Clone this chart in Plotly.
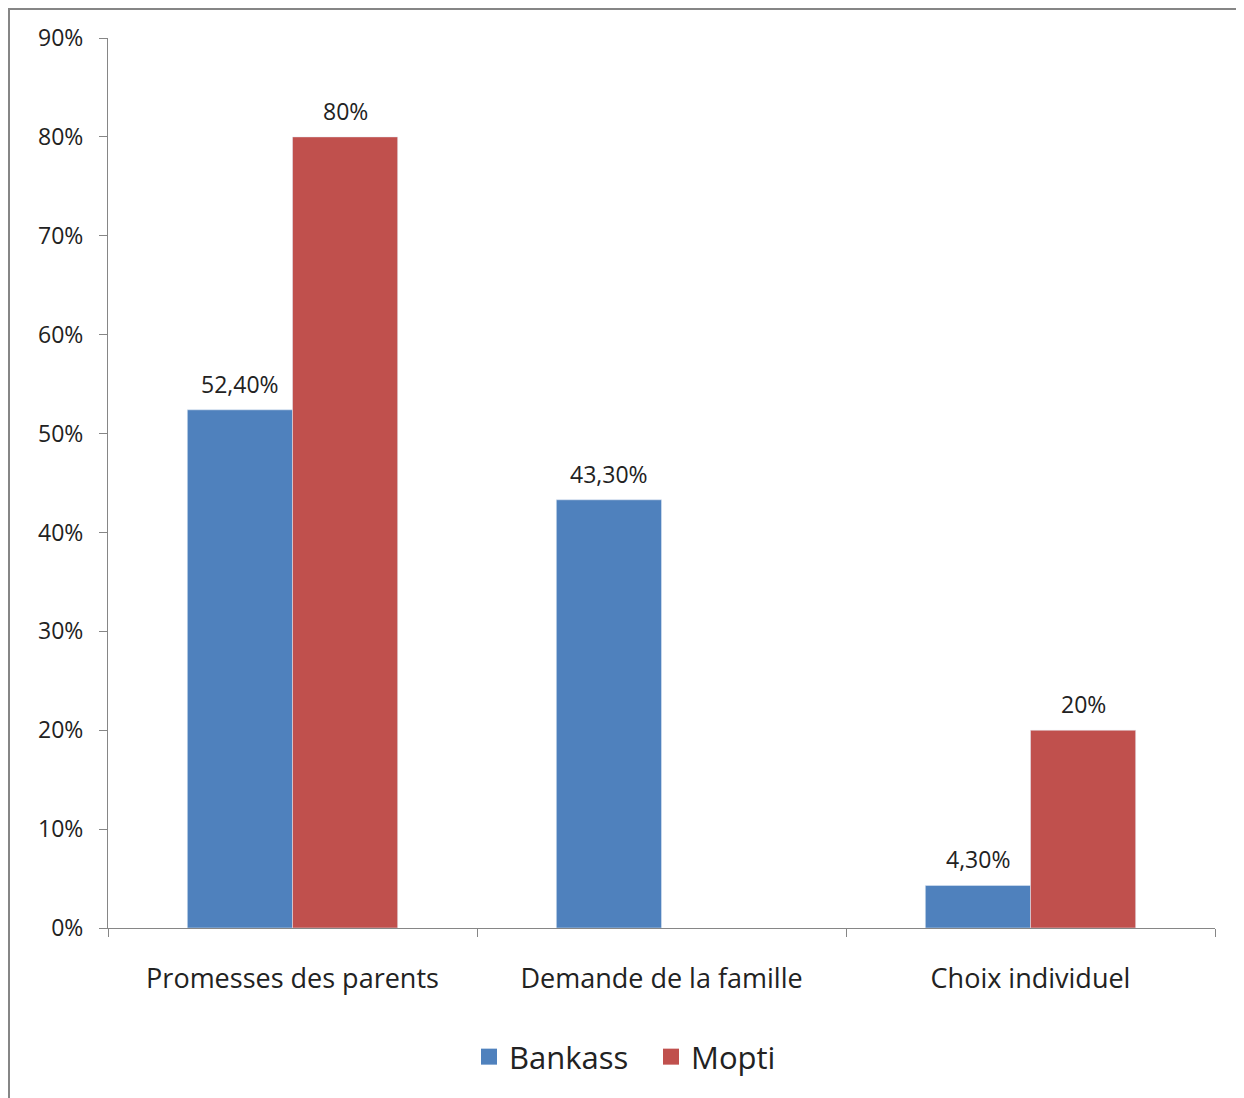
import plotly.graph_objects as go

categories = ["Promesses des parents", "Demande de la famille", "Choix individuel"]
bankass = [52.4, 43.3, 4.3]
mopti = [80, None, 20]
bankass_labels = ["52,40%", "43,30%", "4,30%"]
mopti_labels = ["80%", "", "20%"]
tick_vals = [0, 10, 20, 30, 40, 50, 60, 70, 80, 90]
tick_text = ["0%", "10%", "20%", "30%", "40%", "50%", "60%", "70%", "80%", "90%"]

# page is offset by the 8px body margin
OFF = 8
W, H = 1244 - OFF, 1098 - OFF
L, R, T, B = 108 - OFF, 1215 - OFF, 38 - OFF, 928 - OFF
FONT = "Open Sans, Noto Sans, sans-serif"
BLUE, RED = "#4F81BD", "#C0504D"
BAR_PX = ((R - L) / 3) * (1 - 0.43) / 2

fig = go.Figure()
fig.add_trace(go.Bar(name="Bankass", x=categories, y=bankass, marker_color=BLUE,
                     showlegend=False))
fig.add_trace(go.Bar(name="Mopti", x=categories, y=mopti, marker_color=RED,
                     showlegend=False))
# legend entries with larger square symbols
for name, col in [("Bankass", BLUE), ("Mopti", RED)]:
    fig.add_trace(go.Scatter(name=name, x=[None], y=[None], mode="markers",
                             marker=dict(symbol="square", size=20, color=col)))

annotations = []
for cat, v, lab in zip(categories, bankass, bankass_labels):
    if v is not None and lab:
        annotations.append(dict(x=cat, y=v, text=lab, showarrow=False, xshift=-BAR_PX / 2,
                                yshift=26, font=dict(size=23, color="#222")))
for cat, v, lab in zip(categories, mopti, mopti_labels):
    if v is not None and lab:
        annotations.append(dict(x=cat, y=v, text=lab, showarrow=False, xshift=BAR_PX / 2,
                                yshift=26, font=dict(size=23, color="#222")))

def px_x(p):
    return (p - L) / (R - L)

def px_y(p):
    return (B - p) / (B - T)

fig.update_layout(
    width=W, height=H,
    margin=dict(l=L, r=W - R, t=T, b=H - B, pad=0),
    paper_bgcolor="white", plot_bgcolor="white",
    barmode="group", bargap=0.43, bargroupgap=0,
    font=dict(family=FONT, color="#222"),
    showlegend=True,
    legend=dict(orientation="h", x=px_x(651 - OFF), xanchor="center",
                y=px_y(1057 - OFF), yanchor="middle",
                font=dict(size=31, color="#222"), itemwidth=30, entrywidth=137),
    annotations=annotations,
    xaxis=dict(showline=True, linecolor="#868686", linewidth=1, ticks="outside",
               tickson="boundaries", ticklen=8, tickcolor="#868686",
               tickfont=dict(size=27, color="#222"), showgrid=False,
               ticklabelstandoff=27),
    yaxis=dict(range=[0, 90], tickvals=tick_vals, ticktext=tick_text, showline=True,
               linecolor="#868686", linewidth=1, ticks="outside", ticklen=8,
               tickcolor="#868686", tickfont=dict(size=23, color="#222"), showgrid=False,
               zeroline=False, ticklabelstandoff=11),
    shapes=[
        dict(type="line", xref="paper", yref="paper", x0=px_x(1), x1=px_x(1),
             y0=px_y(1), y1=px_y(1200), line=dict(color="#868686", width=2)),
        dict(type="line", xref="paper", yref="paper", x0=px_x(0), x1=px_x(1300),
             y0=px_y(1), y1=px_y(1), line=dict(color="#868686", width=2)),
    ],
)

fig.write_html("out.html")
